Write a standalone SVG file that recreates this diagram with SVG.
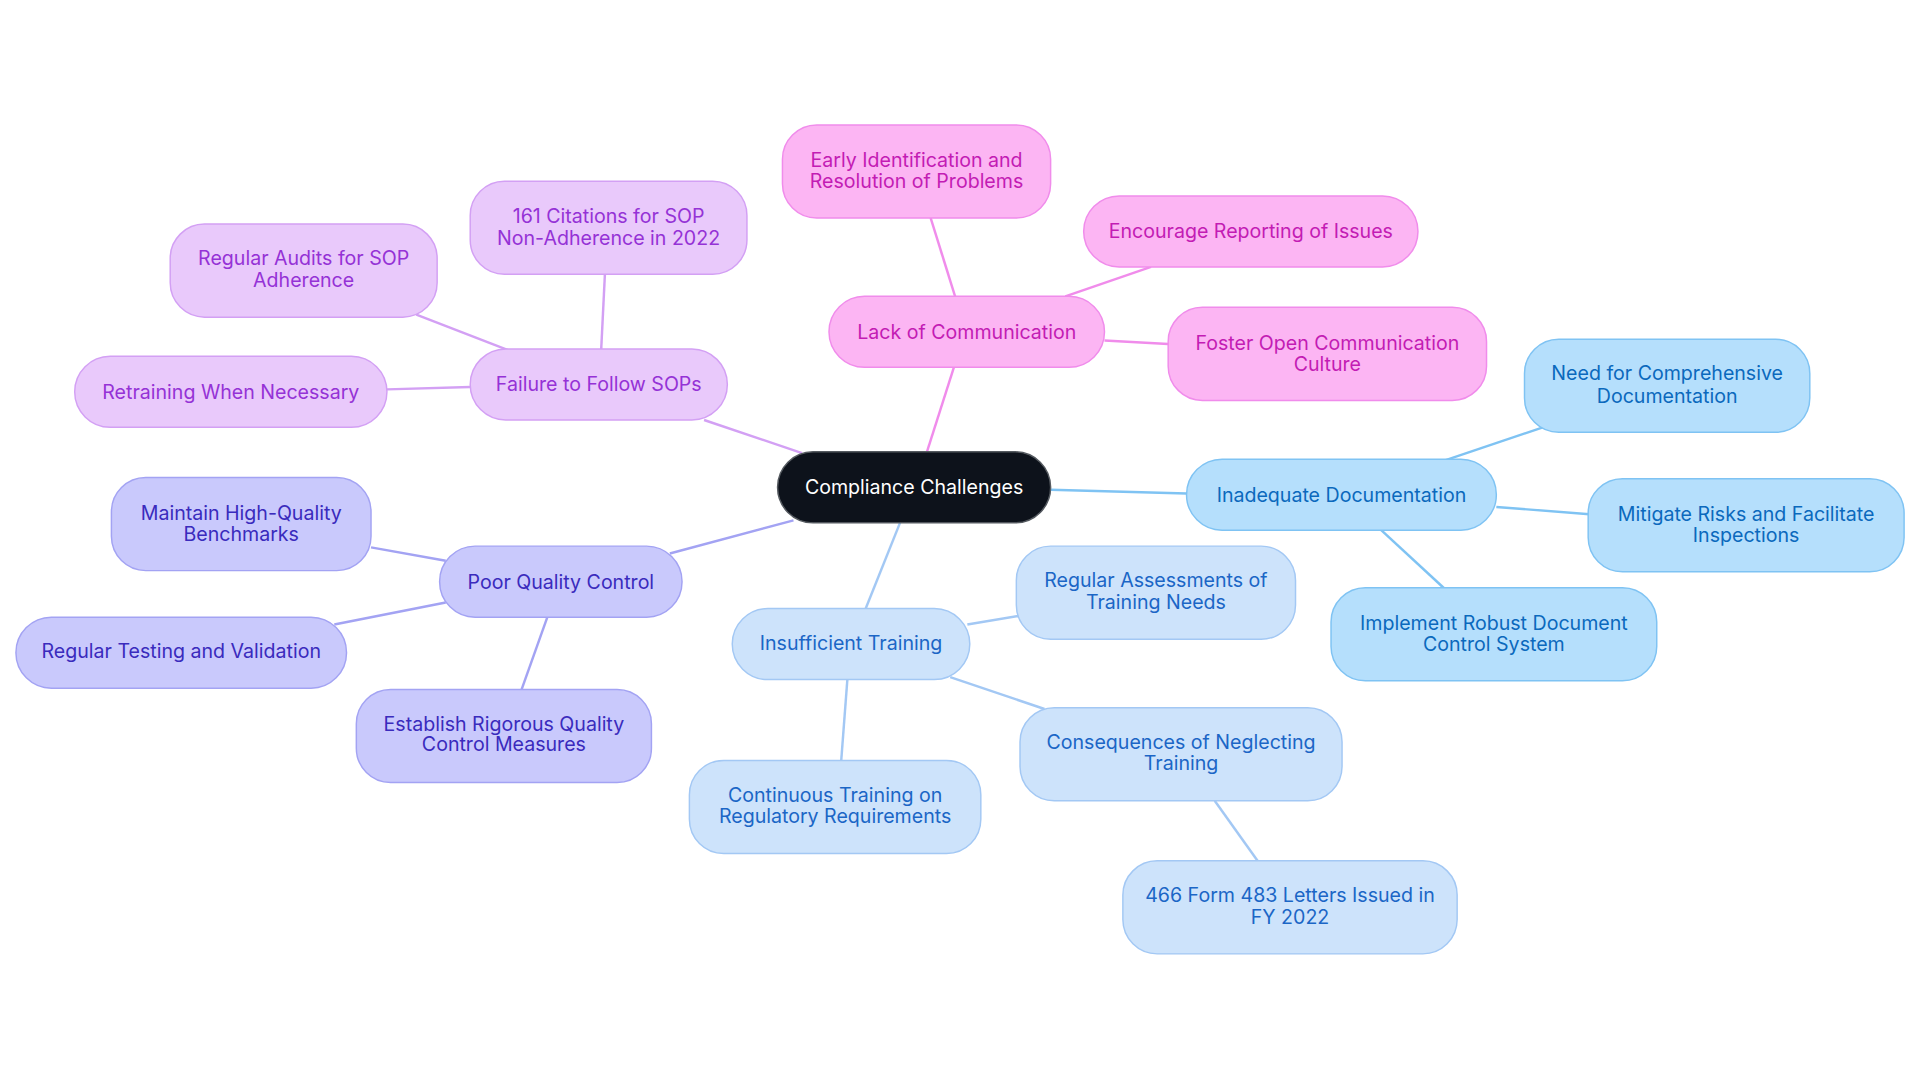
<svg xmlns="http://www.w3.org/2000/svg" width="1920" height="1083" viewBox="0 0 1920 1083">
<style>
text{font-family:Inter,"Open Sans",sans-serif;font-size:16px;text-anchor:middle;dominant-baseline:central}
.e{stroke-width:2;fill:none}
.pk rect{fill:#fcb5f3;stroke:#f08ceb}.pk text{fill:#c31cb4}
.pu rect{fill:#e9c9fb;stroke:#d3a0f4}.pu text{fill:#9532d6}
.in rect{fill:#c9c9fc;stroke:#a3a3f3}.in text{fill:#3a2bbd}
.lb rect{fill:#cde3fb;stroke:#a3c8f4}.lb text{fill:#1b66c6}
.sb rect{fill:#b5dffc;stroke:#7fc3f3}.sb text{fill:#0b69bd}
rect{stroke-width:1.2}
</style>
<rect width="1920" height="1083" fill="#fff"/>
<g transform="scale(1.2245)">
<g id="connectors">
<line class="e" stroke="#f08ceb" x1="757" y1="369" x2="779" y2="300"/>
<line class="e" stroke="#f08ceb" x1="780" y1="242" x2="760" y2="178"/>
<line class="e" stroke="#f08ceb" x1="870" y1="242" x2="940" y2="218"/>
<line class="e" stroke="#f08ceb" x1="902" y1="278" x2="954" y2="281"/>
<line class="e" stroke="#d3a0f4" x1="655" y1="370" x2="575" y2="343"/>
<line class="e" stroke="#d3a0f4" x1="491" y1="285" x2="494" y2="224"/>
<line class="e" stroke="#d3a0f4" x1="415" y1="286" x2="340" y2="257"/>
<line class="e" stroke="#d3a0f4" x1="384" y1="316" x2="316" y2="318"/>
<line class="e" stroke="#a3a3f3" x1="648" y1="425" x2="547" y2="452"/>
<line class="e" stroke="#a3a3f3" x1="364" y1="458" x2="303" y2="447"/>
<line class="e" stroke="#a3a3f3" x1="364" y1="492" x2="273" y2="510"/>
<line class="e" stroke="#a3a3f3" x1="447" y1="504" x2="426" y2="563"/>
<line class="e" stroke="#a3c8f4" x1="735" y1="427" x2="707" y2="497"/>
<line class="e" stroke="#a3c8f4" x1="790" y1="510" x2="832" y2="503"/>
<line class="e" stroke="#a3c8f4" x1="776" y1="553" x2="853" y2="579"/>
<line class="e" stroke="#a3c8f4" x1="692" y1="555" x2="687" y2="621"/>
<line class="e" stroke="#a3c8f4" x1="992" y1="654" x2="1027" y2="703"/>
<line class="e" stroke="#7fc3f3" x1="858" y1="400" x2="969" y2="403"/>
<line class="e" stroke="#7fc3f3" x1="1180" y1="376" x2="1260" y2="349"/>
<line class="e" stroke="#7fc3f3" x1="1222" y1="414" x2="1298" y2="420"/>
<line class="e" stroke="#7fc3f3" x1="1128" y1="433" x2="1180" y2="481"/>
</g>
<g id="center"><rect x="635" y="369" width="223" height="58" rx="29" fill="#0d121b" stroke="#555a60"/><text x="746.5" y="398" fill="#fff">Compliance Challenges</text></g>
<g id="lack" class="pk"><rect x="677" y="242" width="225" height="58" rx="29"/><text x="789.5" y="271">Lack of Communication</text></g>
<g id="early" class="pk"><rect x="639" y="102" width="219" height="76" rx="28"/><text x="748.5" y="131">Early Identification and</text><text x="748.5" y="148">Resolution of Problems</text></g>
<g id="encourage" class="pk"><rect x="885" y="160" width="273" height="58" rx="29"/><text x="1021.5" y="189">Encourage Reporting of Issues</text></g>
<g id="foster" class="pk"><rect x="954" y="251" width="260" height="76" rx="28"/><text x="1084" y="280">Foster Open Communication</text><text x="1084" y="297">Culture</text></g>
<g id="failure" class="pu"><rect x="384" y="285" width="210" height="58" rx="29"/><text x="489" y="314">Failure to Follow SOPs</text></g>
<g id="citations" class="pu"><rect x="384" y="148" width="226" height="76" rx="28"/><text x="497" y="176">161 Citations for SOP</text><text x="497" y="194">Non-Adherence in 2022</text></g>
<g id="audits" class="pu"><rect x="139" y="183" width="218" height="76" rx="28"/><text x="248" y="211">Regular Audits for SOP</text><text x="248" y="229">Adherence</text></g>
<g id="retraining" class="pu"><rect x="61" y="291" width="255" height="58" rx="29"/><text x="188.5" y="320">Retraining When Necessary</text></g>
<g id="poor" class="in"><rect x="359" y="446" width="198" height="58" rx="29"/><text x="458" y="475">Poor Quality Control</text></g>
<g id="maintain" class="in"><rect x="91" y="390" width="212" height="76" rx="28"/><text x="197" y="419">Maintain High-Quality</text><text x="197" y="436">Benchmarks</text></g>
<g id="testing" class="in"><rect x="13" y="504" width="270" height="58" rx="29"/><text x="148" y="532">Regular Testing and Validation</text></g>
<g id="establish" class="in"><rect x="291" y="563" width="241" height="76" rx="28"/><text x="411.5" y="591">Establish Rigorous Quality</text><text x="411.5" y="608">Control Measures</text></g>
<g id="insufficient" class="lb"><rect x="598" y="497" width="194" height="58" rx="29"/><text x="695" y="525">Insufficient Training</text></g>
<g id="assessments" class="lb"><rect x="830" y="446" width="228" height="76" rx="28"/><text x="944" y="474">Regular Assessments of</text><text x="944" y="492">Training Needs</text></g>
<g id="consequences" class="lb"><rect x="833" y="578" width="263" height="76" rx="28"/><text x="964.5" y="606">Consequences of Neglecting</text><text x="964.5" y="623">Training</text></g>
<g id="continuous" class="lb"><rect x="563" y="621" width="238" height="76" rx="28"/><text x="682" y="649">Continuous Training on</text><text x="682" y="666">Regulatory Requirements</text></g>
<g id="form483" class="lb"><rect x="917" y="703" width="273" height="76" rx="28"/><text x="1053.5" y="731">466 Form 483 Letters Issued in</text><text x="1053.5" y="749">FY 2022</text></g>
<g id="inadequate" class="sb"><rect x="969" y="375" width="253" height="58" rx="29"/><text x="1095.5" y="404">Inadequate Documentation</text></g>
<g id="need" class="sb"><rect x="1245" y="277" width="233" height="76" rx="28"/><text x="1361.5" y="305">Need for Comprehensive</text><text x="1361.5" y="323">Documentation</text></g>
<g id="mitigate" class="sb"><rect x="1297" y="391" width="258" height="76" rx="28"/><text x="1426" y="420">Mitigate Risks and Facilitate</text><text x="1426" y="437">Inspections</text></g>
<g id="implement" class="sb"><rect x="1087" y="480" width="266" height="76" rx="28"/><text x="1220" y="509">Implement Robust Document</text><text x="1220" y="526">Control System</text></g>
</g>
</svg>
